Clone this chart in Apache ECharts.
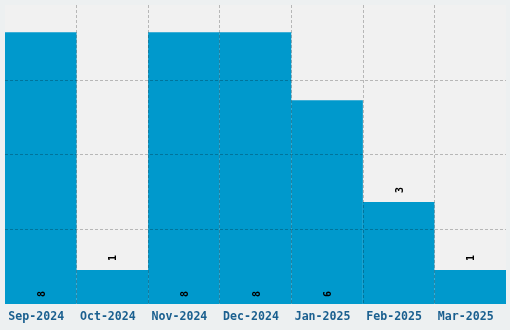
<!DOCTYPE html>
<html>
<head>
<meta charset="utf-8">
<script src="https://cdn.jsdelivr.net/npm/echarts@6/dist/echarts.min.js"></script>
<style>
html,body{margin:0;padding:0;background:#edf0f1;}
#chart{width:510px;height:330px;}
</style>
</head>
<body>
<div id="chart"></div>
<script>
var categories = ['Sep-2024','Oct-2024','Nov-2024','Dec-2024','Jan-2025','Feb-2025','Mar-2025'];
var counts = [8, 1, 8, 8, 6, 3, 1];
var yMax = 8.8;
var yInterval = 2.2;

var chart = echarts.init(document.getElementById('chart'), null, {renderer:'canvas'});
var dataItems = counts.map(function(v){
  var inside = v >= 5;
  return {
    value: v,
    label: {
      position: inside ? 'insideBottom' : 'top',
      distance: inside ? 6 : 8
    }
  };
});
chart.setOption({
  backgroundColor: '#edf0f1',
  animation: false,
  grid: {left:5, right:4, top:5, bottom:26, show:true, backgroundColor:'#f1f1f1', borderWidth:0},
  xAxis: {
    type:'category', data: categories, boundaryGap: true, z: 5,
    axisLine:{show:false}, axisTick:{show:false},
    axisLabel:{color:'#1a5f8f', fontFamily:'DejaVu Sans Mono', fontWeight:'bold', fontSize:11.6, margin:7, interval:0, padding:[0,9,0,0]},
    splitLine:{show:true, interval:0, showMinLine:false, showMaxLine:false, lineStyle:{color:'rgba(0,0,0,0.24)', type:[3,2], width:1}}
  },
  yAxis: {
    type:'value', min:0, max:yMax, interval:yInterval, z: 5,
    axisLine:{show:false}, axisTick:{show:false}, axisLabel:{show:false},
    splitLine:{show:true, showMinLine:false, showMaxLine:false, lineStyle:{color:'rgba(0,0,0,0.24)', type:[3,2], width:1}}
  },
  series: [{
    type:'bar', data: dataItems, barCategoryGap:'0%', z: 2,
    itemStyle:{color:'#0099cc'},
    label:{show:true, rotate:90, align:'left', verticalAlign:'middle', color:'#000', fontFamily:'DejaVu Sans Mono', fontWeight:'bold', fontSize:10, offset:[1,1.5]}
  }]
});
</script>
</body>
</html>
